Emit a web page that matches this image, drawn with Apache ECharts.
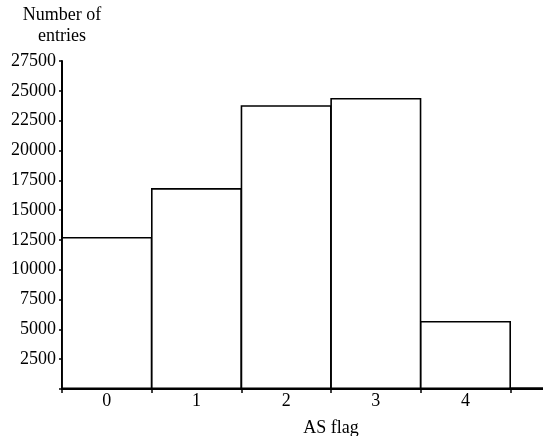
<!DOCTYPE html>
<html>
<head>
<meta charset="utf-8">
<script src="https://cdn.jsdelivr.net/npm/echarts@6/dist/echarts.min.js"></script>
<style>
  html, body { margin: 0; padding: 0; background: #fff; }
  #chart { width: 543px; height: 436px; }
</style>
</head>
<body>
<div id="chart"></div>
<script>
// AS flag bins and their counts (last bin runs off the right edge)
const asFlags = ['0', '1', '2', '3', '4', '5'];
const entries = [12750, 16850, 23800, 24400, 5700, 150];
const yTicks = { min: 0, max: 27500, step: 2500 };

const serif = 'Liberation Serif';
const chart = echarts.init(document.getElementById('chart'));

chart.setOption({
  animation: false,
  backgroundColor: '#fff',
  grid: {
    left: 62,
    top: 61,
    width: 538,
    height: 328,
    containLabel: false,
    outerBoundsMode: 'none'
  },
  xAxis: {
    type: 'category',
    data: asFlags,
    boundaryGap: true,
    name: 'AS flag',
    nameLocation: 'middle',
    nameGap: 30,
    nameTextStyle: { fontFamily: serif, fontSize: 18, color: '#000' },
    axisLine: { lineStyle: { color: '#000', width: 2 } },
    axisTick: { show: true, length: 4, inside: false, lineStyle: { color: '#000', width: 1.5 } },
    axisLabel: {
      fontFamily: serif,
      fontSize: 18,
      color: '#000',
      margin: 3,
      formatter: v => (v === '5' ? '' : v)
    },
    splitLine: { show: false }
  },
  yAxis: {
    type: 'value',
    min: yTicks.min,
    max: yTicks.max,
    interval: yTicks.step,
    name: 'Number of\nentries',
    nameLocation: 'end',
    nameGap: 14,
    nameTextStyle: { fontFamily: serif, fontSize: 18, color: '#000', align: 'center', lineHeight: 21 },
    axisLine: { show: true, lineStyle: { color: '#000', width: 2 } },
    axisTick: { show: true, length: 3, lineStyle: { color: '#000', width: 1.5 } },
    axisLabel: {
      fontFamily: serif,
      fontSize: 18,
      color: '#000',
      margin: 6,
      formatter: v => (v === 0 ? '' : String(v))
    },
    splitLine: { show: false }
  },
  series: [{
    type: 'bar',
    data: entries,
    barWidth: '101.5%',
    itemStyle: {
      color: '#fff',
      borderColor: '#000',
      borderWidth: 1.6
    }
  }]
});
</script>
</body>
</html>
